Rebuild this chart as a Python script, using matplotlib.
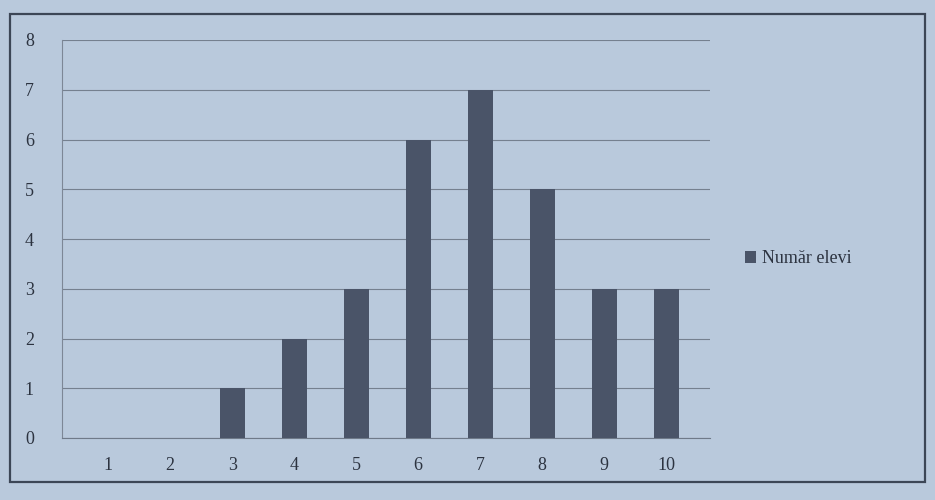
import matplotlib.pyplot as plt
from matplotlib.patches import Rectangle

# date: nota -> numar elevi
note = [1, 2, 3, 4, 5, 6, 7, 8, 9, 10]
numar_elevi = [0, 0, 1, 2, 3, 6, 7, 5, 3, 3]
y_ticks = [0, 1, 2, 3, 4, 5, 6, 7, 8]

plt.rcParams['font.family'] = ['Liberation Serif', 'DejaVu Serif']

fig = plt.figure(figsize=(9.35, 5), dpi=100)
fig.patch.set_facecolor("#b9c9dc")

# chenarul graficului
fig.patches.append(Rectangle((0.011, 0.036), 0.978, 0.936, transform=fig.transFigure,
                             fill=False, edgecolor="#3c4656", linewidth=1.6))

ax = fig.add_axes([0.066, 0.124, 0.693, 0.796])
ax.set_facecolor("#b9c9dc")

ax.bar(note, numar_elevi, width=0.4, color="#4a5468", label="Număr elevi", zorder=3)

ax.set_xlim(0.25, 10.7)
ax.set_ylim(0, 8)
ax.set_yticks(y_ticks)
ax.set_xticks(note)
ax.grid(axis="y", color="#75808f", linewidth=0.8, zorder=0)

for s in ["top", "right"]:
    ax.spines[s].set_visible(False)
ax.spines["left"].set_color("#7d8796")
ax.spines["bottom"].set_color("#6f7a89")
ax.tick_params(axis="both", length=0, labelsize=13, colors="#2c3340", pad=14)
ax.tick_params(axis="y", pad=20)

ax.legend(loc="center left", bbox_to_anchor=(1.03, 0.45), frameon=False,
          fontsize=13, handlelength=0.6, handleheight=0.6, handletextpad=0.3,
          labelcolor="#2c3340")

plt.savefig("out.png", dpi=100, facecolor=fig.get_facecolor())
